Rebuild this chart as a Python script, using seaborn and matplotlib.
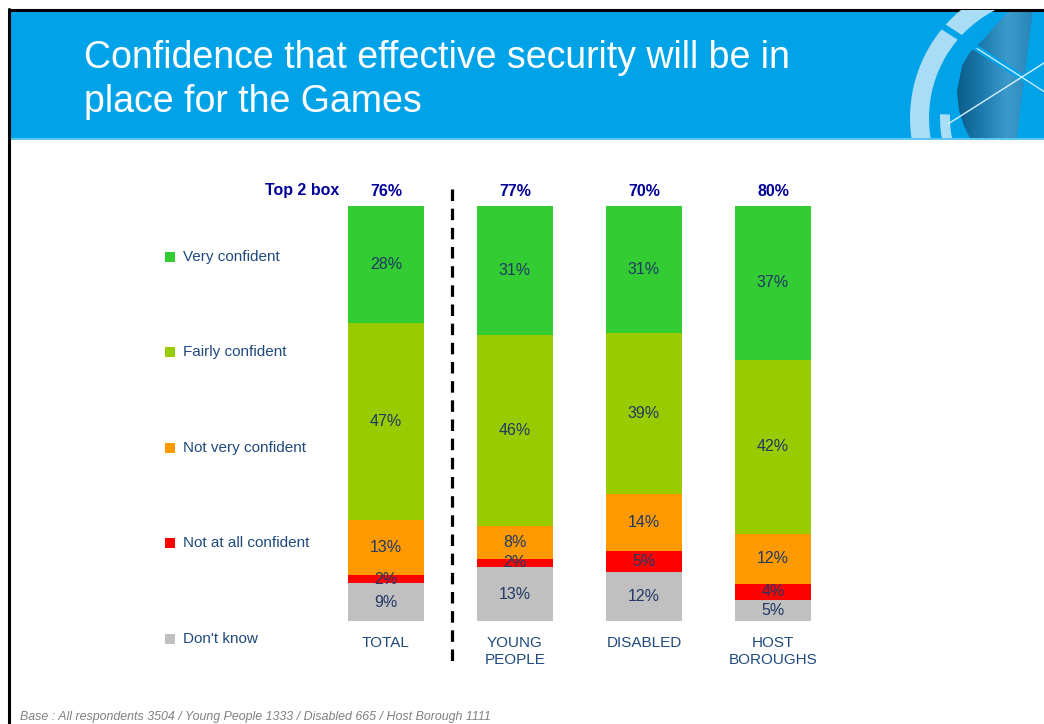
import matplotlib
matplotlib.use("Agg")
import matplotlib.pyplot as plt
from matplotlib.patches import Rectangle, Wedge, Polygon
from matplotlib.lines import Line2D
import numpy as np
import pandas as pd
import seaborn as sns

# ---- data -------------------------------------------------------------
groups = ["TOTAL", "YOUNG\nPEOPLE", "DISABLED", "HOST\nBOROUGHS"]
responses = ["Very confident", "Fairly confident", "Not very confident",
             "Not at all confident", "Don't know"]
very_confident = [28, 31, 31, 37]
fairly_confident = [47, 46, 39, 42]
not_very_confident = [13, 8, 14, 12]
not_at_all_confident = [2, 2, 5, 4]
dont_know = [9, 13, 12, 5]
top2_box = [76, 77, 70, 80]

colors = {
    "Very confident": "#33CC33",
    "Fairly confident": "#99CC00",
    "Not very confident": "#FF9900",
    "Not at all confident": "#FF0000",
    "Don't know": "#C0C0C0",
}

sns.set_theme(style="white")
plt.rcParams["font.family"] = ["Liberation Sans", "DejaVu Sans"]

W, H = 1044, 724
fig = plt.figure(figsize=(W / 100, H / 100), dpi=100)
fig.patch.set_facecolor("white")

# ---- slide background, header banner and decorations -----------------
bg = fig.add_axes([0, 0, 1, 1], zorder=0)
bg.axis("off")

banner_col = "#00A3E8"
banner = Rectangle((9, 10), W - 9, 128, facecolor=banner_col, edgecolor="none")
bg.add_patch(banner)
bg.add_patch(Rectangle((9, 138), W - 9, 2, facecolor="#5CC6F2", edgecolor="none"))
# slide frame lines
bg.add_line(Line2D([9, 9], [9, H], color="black", lw=2.2))
bg.add_line(Line2D([9, W], [10, 10], color="black", lw=2.2))

# emblem in the top-right corner of the banner: shaded lens + light arcs
lens_pts = [(1033, 10), (1010, 10), (995, 26), (983, 40), (970, 52), (962, 66),
            (957, 91), (959, 110), (964, 126), (970, 138), (1017, 138),
            (1019, 120), (1022, 95), (1027, 58), (1030, 32)]
lens = Polygon(lens_pts, closed=True, facecolor="none", edgecolor="none")
bg.add_patch(lens)
shade = np.linspace(0, 1, 64).reshape(1, -1)
lens_cmap = matplotlib.colors.LinearSegmentedColormap.from_list(
    "lens", ["#0A5A85", "#1C7AAE", "#3C9BCB", "#2683B8"])
img = bg.imshow(shade, extent=(955, 1035, 138, 10), cmap=lens_cmap,
                aspect="auto", interpolation="bilinear", zorder=1)
img.set_clip_path(lens)

ecx, ecy = 1050, 118
arcs = [
    Wedge((ecx, ecy), 140, 150, 272, width=19, facecolor="#A9DDF6", edgecolor="none"),
    Wedge((ecx, ecy), 110, 165, 182, width=10, facecolor="#A9DDF6", edgecolor="none"),
]
for p in arcs:
    p.set_zorder(2)
    bg.add_patch(p)
    p.set_clip_path(banner)
cut = Line2D([925, 1044], [15, 91.5], color=banner_col, lw=4.5, zorder=3)
glint = Line2D([977, 1044], [48.5, 91.5], color="#D6F1FD", lw=0.9, zorder=4)
thin = Line2D([948, 1044], [124, 63], color="#D6F1FD", lw=1.0, zorder=4)
for l in (cut, glint, thin):
    bg.add_line(l)
    l.set_clip_path(banner)

bg.set_xlim(0, W)
bg.set_ylim(H, 0)

bg.text(84, 68, "Confidence that effective security will be in",
        color="white", fontsize=27, va="baseline", ha="left")
bg.text(84, 112, "place for the Games",
        color="white", fontsize=27, va="baseline", ha="left")

# legend on the left
legend_y = [257, 352, 448, 543, 639]
for name, y in zip(responses, legend_y):
    bg.add_patch(Rectangle((165, y - 5), 10, 10, facecolor=colors[name], edgecolor="none"))
    bg.text(183, y, name, color="#1F497D", fontsize=11, va="center", ha="left")

bg.text(339, 191, "Top 2 box", color="#000099", fontsize=11.5, fontweight="bold",
        va="center", ha="right")

# dashed divider between TOTAL and the sub-groups
bg.add_line(Line2D([452, 452], [189, 664], color="black", lw=2.3,
                   linestyle=(0, (3.6, 2.4))))

bg.text(20, 717, "Base : All respondents 3504 / Young People 1333 / Disabled 665 / Host Borough 1111",
        color="#808080", fontsize=8.9, style="italic", va="center", ha="left")

# ---- stacked bars ------------------------------------------------------
ax = fig.add_axes([321.5 / W, 103 / H, 516 / W, 415 / H], zorder=1)
ax.patch.set_alpha(0)

series = {
    "Don't know": dont_know,
    "Not at all confident": not_at_all_confident,
    "Not very confident": not_very_confident,
    "Fairly confident": fairly_confident,
    "Very confident": very_confident,
}
totals = np.sum([np.array(v) for v in series.values()], axis=0)

bottom = np.zeros(len(groups))
for name, vals in series.items():
    share = np.array(vals) / totals * 100
    df = pd.DataFrame({"group": groups, "share": share})
    sns.barplot(data=df, x="group", y="share", bottom=bottom, color=colors[name],
                width=76 / 129, saturation=1, ax=ax, edgecolor="none", linewidth=0)
    for i, (v, s) in enumerate(zip(vals, share)):
        ax.text(i, bottom[i] + s / 2, f"{v}%", ha="center", va="center",
                color="#1F3864", fontsize=11.5)
    bottom = bottom + share

for i, v in enumerate(top2_box):
    ax.text(i, 103.6, f"{v}%", ha="center", va="center", color="#000099",
            fontsize=11.5, fontweight="bold", clip_on=False)

ax.set_xlim(-0.5, 3.5)
ax.set_ylim(0, 100)
ax.set_xlabel("")
ax.set_ylabel("")
ax.set_yticks([])
ax.tick_params(axis="x", length=0, pad=10.5, labelsize=11, labelcolor="#1F497D")
for lab in ax.get_xticklabels():
    lab.set_linespacing(1.3)
for s in ax.spines.values():
    s.set_visible(False)

fig.savefig("out.png", dpi=100, facecolor="white")
